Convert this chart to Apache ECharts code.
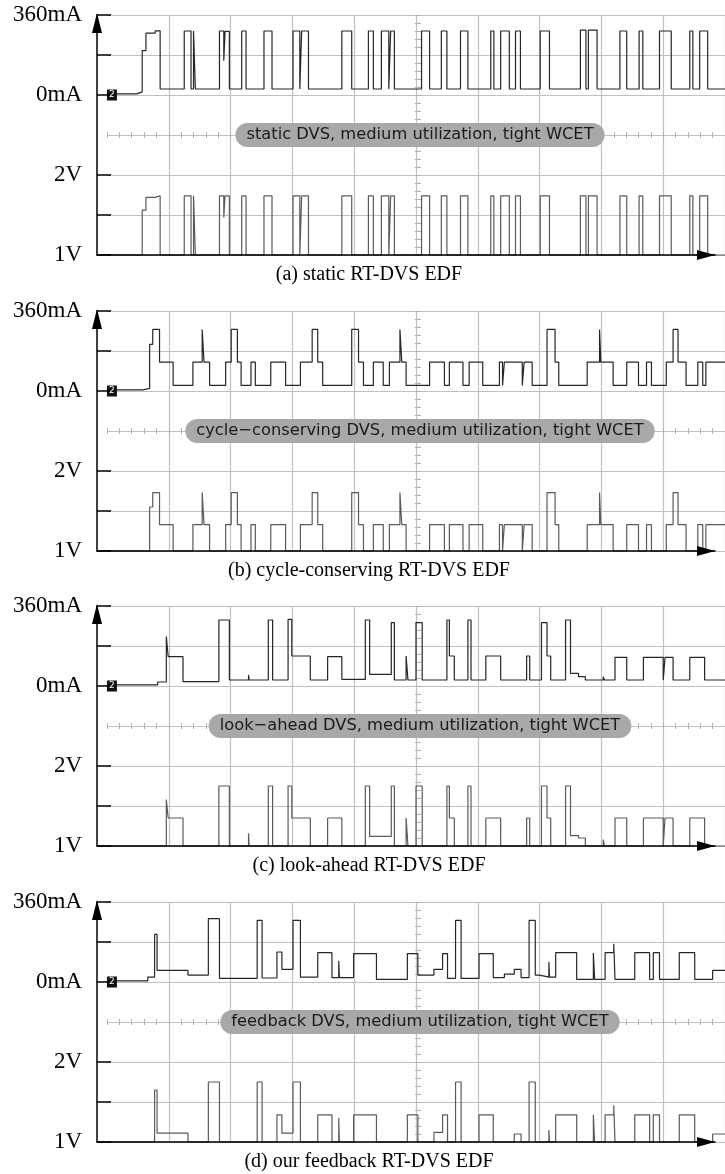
<!DOCTYPE html>
<html>
<head>
<meta charset="utf-8">
<script src="https://cdn.jsdelivr.net/npm/echarts@6/dist/echarts.min.js"></script>
<style>
html,body{margin:0;padding:0;background:#fff;}
#chart{width:725px;height:1174px;}
</style>
</head>
<body>
<div id="chart"></div>
<script>
// ---- data (time in screen divisions, current in mA, voltage in V) ----
const aTime = [0, 0.48, 0.57, 0.63, 0.78, 0.86, 1.25, 1.36, 1.40, 1.43, 1.82, 1.89, 1.91, 1.98, 2.18, 2.25, 2.54, 2.67, 3.01, 3.12, 3.15, 3.26, 3.80, 3.96, 4.23, 4.31, 4.44, 4.56, 4.59, 4.65, 5.09, 5.22, 5.41, 5.50, 5.72, 5.84, 6.21, 6.26, 6.37, 6.51, 6.61, 6.69, 7.01, 7.16, 7.66, 7.75, 7.79, 7.93, 8.30, 8.41, 8.61, 8.67, 8.94, 9.13, 9.43, 9.48, 9.59, 9.72, 10];
const aCurrent = [5, 14, 200, 278, 289, 27, 288, 27, 288, 27, 288, 154, 286, 27, 288, 27, 288, 27, 288, 27, 288, 27, 288, 27, 288, 27, 288, 27, 288, 27, 288, 27, 288, 27, 288, 27, 288, 27, 288, 27, 288, 27, 288, 27, 292, 27, 292, 27, 288, 27, 288, 27, 288, 27, 288, 27, 288, 27, 27];
const aVoltage = [1.0, 1.0, 1.56, 1.72, 1.74, 1.0, 1.74, 1.0, 1.74, 1.0, 1.74, 1.47, 1.74, 1.0, 1.74, 1.0, 1.74, 1.0, 1.74, 1.0, 1.74, 1.0, 1.74, 1.0, 1.74, 1.0, 1.74, 1.0, 1.74, 1.0, 1.74, 1.0, 1.74, 1.0, 1.74, 1.0, 1.74, 1.0, 1.74, 1.0, 1.74, 1.0, 1.74, 1.0, 1.74, 1.0, 1.74, 1.0, 1.74, 1.0, 1.74, 1.0, 1.74, 1.0, 1.74, 1.0, 1.74, 1.0, 1.0];

const bTime = [0, 0.58, 0.69, 0.74, 0.85, 1.07, 1.39, 1.54, 1.57, 1.66, 1.92, 2.01, 2.11, 2.17, 2.33, 2.40, 2.65, 2.89, 3.13, 3.32, 3.41, 3.49, 3.96, 4.07, 4.15, 4.31, 4.47, 4.57, 4.74, 4.77, 4.84, 5.22, 5.46, 5.54, 5.76, 5.86, 6.08, 6.35, 6.40, 6.43, 6.72, 6.75, 6.88, 7.12, 7.25, 7.31, 7.77, 7.97, 7.99, 8.19, 8.41, 8.60, 8.73, 8.81, 9.05, 9.16, 9.24, 9.37, 9.56, 9.64, 9.69, 10];
const bCurrent = [5, 12, 210, 277, 130, 25, 130, 277, 130, 25, 130, 277, 130, 25, 130, 25, 130, 25, 130, 277, 130, 25, 277, 130, 25, 130, 25, 130, 277, 130, 25, 130, 25, 130, 25, 130, 25, 130, 25, 130, 25, 130, 25, 277, 130, 25, 130, 277, 130, 25, 130, 25, 130, 25, 130, 277, 130, 25, 130, 25, 130, 130];
const bVoltage = [1.0, 1.0, 1.55, 1.73, 1.33, 1.0, 1.33, 1.73, 1.33, 1.0, 1.33, 1.73, 1.33, 1.0, 1.33, 1.0, 1.33, 1.0, 1.33, 1.73, 1.33, 1.0, 1.73, 1.33, 1.0, 1.33, 1.0, 1.33, 1.73, 1.33, 1.0, 1.33, 1.0, 1.33, 1.0, 1.33, 1.0, 1.33, 1.0, 1.33, 1.0, 1.33, 1.0, 1.73, 1.33, 1.0, 1.33, 1.73, 1.33, 1.0, 1.33, 1.0, 1.33, 1.0, 1.33, 1.73, 1.33, 1.0, 1.33, 1.0, 1.33, 1.33];

const cTime = [0, 0.82, 0.96, 0.99, 1.23, 1.81, 1.98, 2.29, 2.30, 2.61, 2.68, 2.93, 2.99, 3.29, 3.57, 3.80, 4.18, 4.25, 4.60, 4.65, 4.84, 4.87, 5.00, 5.10, 5.50, 5.54, 5.62, 5.84, 5.89, 6.13, 6.37, 6.79, 6.84, 7.03, 7.12, 7.18, 7.42, 7.50, 7.63, 7.74, 8.03, 8.05, 8.22, 8.41, 8.68, 9.00, 9.03, 9.16, 9.43, 9.67, 10];
const cCurrent = [5, 18, 222, 132, 20, 297, 27, 50, 27, 297, 27, 300, 135, 27, 132, 30, 297, 52, 285, 27, 135, 27, 285, 27, 297, 135, 27, 297, 27, 135, 27, 135, 27, 285, 135, 27, 297, 57, 42, 27, 42, 27, 129, 27, 129, 27, 129, 27, 129, 27, 27];
const cVoltage = [1.0, 1.0, 1.58, 1.35, 1.0, 1.75, 1.0, 1.16, 1.0, 1.75, 1.0, 1.75, 1.35, 1.0, 1.35, 1.0, 1.75, 1.12, 1.75, 1.0, 1.35, 1.0, 1.75, 1.0, 1.75, 1.35, 1.0, 1.75, 1.0, 1.35, 1.0, 1.35, 1.0, 1.75, 1.35, 1.0, 1.75, 1.13, 1.1, 1.0, 1.08, 1.0, 1.35, 1.0, 1.35, 1.0, 1.35, 1.0, 1.35, 1.0, 1.0];

const dTime = [0, 0.66, 0.77, 0.81, 1.31, 1.64, 1.82, 2.43, 2.51, 2.75, 2.83, 3.01, 3.13, 3.41, 3.64, 3.75, 3.76, 3.99, 4.36, 4.86, 5.03, 5.29, 5.43, 5.51, 5.64, 5.73, 6.02, 6.25, 6.43, 6.59, 6.70, 6.83, 6.93, 7.00, 7.15, 7.16, 7.26, 7.60, 7.87, 7.89, 8.06, 8.20, 8.22, 8.54, 8.78, 8.84, 8.94, 9.26, 9.51, 9.80, 10];
const dCurrent = [5, 22, 214, 52, 31, 285, 16, 277, 18, 135, 57, 277, 22, 132, 20, 95, 20, 128, 12, 128, 31, 57, 128, 16, 277, 16, 128, 20, 35, 57, 20, 277, 31, 22, 90, 22, 132, 12, 130, 12, 132, 172, 12, 132, 12, 132, 12, 132, 12, 52, 52];
const dVoltage = [1.0, 1.0, 1.65, 1.11, 1.0, 1.75, 1.0, 1.75, 1.0, 1.34, 1.11, 1.75, 1.0, 1.34, 1.0, 1.3, 1.0, 1.34, 1.0, 1.34, 1.0, 1.12, 1.34, 1.0, 1.75, 1.0, 1.34, 1.0, 1.0, 1.1, 1.0, 1.75, 1.0, 1.0, 1.15, 1.0, 1.34, 1.0, 1.34, 1.0, 1.34, 1.46, 1.0, 1.34, 1.0, 1.34, 1.0, 1.34, 1.0, 1.1, 1.1];

const modeLabels = [
  'static DVS, medium utilization, tight WCET',
  'cycle\u2212conserving DVS, medium utilization, tight WCET',
  'look\u2212ahead DVS, medium utilization, tight WCET',
  'feedback DVS, medium utilization, tight WCET'
];
const captions = [
  '(a) static RT-DVS EDF',
  '(b) cycle-conserving RT-DVS EDF',
  '(c) look-ahead RT-DVS EDF',
  '(d) our feedback RT-DVS EDF'
];
const currentTickLabels = ['0mA', '', '360mA'];   // ticks 0, 180, 360 mA
const voltageTickLabels = ['1V', '', '2V'];       // ticks 1, 1.5, 2 V
const channelMarker = {label: '2', time: 0.08, current: 0};

// ---- layout ----
const panelTops = [15, 311, 606, 902];
const panels = [
  {time: aTime, current: aCurrent, voltage: aVoltage},
  {time: bTime, current: bCurrent, voltage: bVoltage},
  {time: cTime, current: cCurrent, voltage: cVoltage},
  {time: dTime, current: dCurrent, voltage: dVoltage}
];

const GRID_COLOR = '#c0c0c0';
const option = {
  animation: false,
  backgroundColor: '#ffffff',
  grid: [], xAxis: [], yAxis: [], series: [], title: []
};

function baseAxis(extra) {
  return Object.assign({
    type: 'value',
    axisLine: {show: false, onZero: false},
    axisTick: {show: false},
    axisLabel: {show: false},
    splitLine: {show: false}
  }, extra);
}

panels.forEach((p, i) => {
  const T = panelTops[i];
  const g = option.grid.length;
  option.grid.push({left: 97, right: 10, top: T, height: 240});          // frame (arrows)
  option.grid.push({left: 107, right: -4, top: T, height: 240});         // scope graticule
  option.grid.push({left: 107, right: -4, top: T, height: 80});          // current half
  option.grid.push({left: 107, right: -4, top: T + 160, height: 80});    // voltage half

  // frame axes
  option.xAxis.push(baseAxis({gridIndex: g, min: 0, max: 1, z: 5,
    axisLine: {show: true, onZero: false, lineStyle: {color: '#000', width: 1.5},
      symbol: ['none', 'triangle'], symbolSize: [10, 18], symbolOffset: [0, -9]}}));
  option.yAxis.push(baseAxis({gridIndex: g, min: 0, max: 1, z: 5,
    axisLine: {show: true, onZero: false, lineStyle: {color: '#000', width: 1.5},
      symbol: ['none', 'triangle'], symbolSize: [10, 20], symbolOffset: [0, -8]}}));

  // graticule
  option.xAxis.push(baseAxis({gridIndex: g + 1, min: 0, max: 10, interval: 1,
    splitLine: {show: true, showMinLine: false, lineStyle: {color: GRID_COLOR, width: 1.2}}}));
  option.yAxis.push(baseAxis({gridIndex: g + 1, min: 0, max: 6, interval: 1,
    splitLine: {show: true, lineStyle: {color: GRID_COLOR, width: 1.2}}}));
  // centre minor ticks (horizontal and vertical centre lines)
  [true, false].forEach(inside => {
    option.xAxis.push(baseAxis({gridIndex: g + 1, min: 0, max: 10, interval: 0.2, position: 'bottom', offset: -120,
      axisTick: {show: true, inside: inside, length: 3, lineStyle: {color: '#b0b0b0', width: 1}}}));
    option.yAxis.push(baseAxis({gridIndex: g + 1, min: 0, max: 6, interval: 0.2, position: 'left', offset: -311,
      axisTick: {show: true, inside: inside, length: 3, lineStyle: {color: '#b0b0b0', width: 1}}}));
  });

  // current half
  const xC = option.xAxis.length;
  option.xAxis.push(baseAxis({gridIndex: g + 2, min: 0, max: 10}));
  const yC = option.yAxis.length;
  option.yAxis.push(baseAxis({gridIndex: g + 2, min: 0, max: 360, interval: 180, position: 'left', offset: 10, z: 5,
    axisTick: {show: true, inside: true, length: 14, lineStyle: {color: '#000', width: 1.5}},
    axisLabel: {show: true, margin: 15, color: '#000', fontFamily: 'Liberation Serif', fontSize: 23,
      formatter: (v, idx) => currentTickLabels[idx]}}));
  // voltage half
  const xV = option.xAxis.length;
  option.xAxis.push(baseAxis({gridIndex: g + 3, min: 0, max: 10}));
  const yV = option.yAxis.length;
  option.yAxis.push(baseAxis({gridIndex: g + 3, min: 1, max: 2, interval: 0.5, position: 'left', offset: 10, z: 5,
    axisTick: {show: true, inside: true, length: 14, lineStyle: {color: '#000', width: 1.5}},
    axisLabel: {show: true, margin: 15, color: '#000', fontFamily: 'Liberation Serif', fontSize: 23,
      formatter: (v, idx) => voltageTickLabels[idx]}}));

  const pts = (times, levels) => times.map((t, k) => [t, levels[k]]);
  option.series.push({
    type: 'line', xAxisIndex: xC, yAxisIndex: yC, step: 'end', symbol: 'none', clip: false, z: 3,
    data: pts(p.time, p.current),
    lineStyle: {color: '#262626', width: 1.2},
    markPoint: {
      symbol: 'rect', symbolSize: [10, 11], animation: false,
      itemStyle: {color: '#111'},
      label: {show: true, position: 'inside', formatter: channelMarker.label, color: '#fff', fontSize: 9, fontFamily: 'DejaVu Sans'},
      data: [{coord: [channelMarker.time, channelMarker.current]}]
    }
  });
  option.series.push({
    type: 'line', xAxisIndex: xV, yAxisIndex: yV, step: 'end', symbol: 'none', clip: false, z: 3,
    data: pts(p.time, p.voltage),
    lineStyle: {color: '#5a5a5a', width: 1.2}
  });

  option.title.push({
    text: modeLabels[i], left: 409, top: T + 108, textAlign: 'center',
    backgroundColor: '#a8a8a8', borderRadius: 12, padding: [4, 11],
    textStyle: {fontFamily: 'DejaVu Sans', fontSize: 16.3, fontWeight: 'normal', color: '#1a1a1a'}
  });
  option.title.push({
    text: captions[i], left: 369, top: T + 250, textAlign: 'center', padding: 0,
    textStyle: {fontFamily: 'Liberation Serif', fontSize: 20, fontWeight: 'normal', color: '#000'}
  });
});

const chart = echarts.init(document.getElementById('chart'), null, {renderer: 'canvas'});
chart.setOption(option);
</script>
</body>
</html>
